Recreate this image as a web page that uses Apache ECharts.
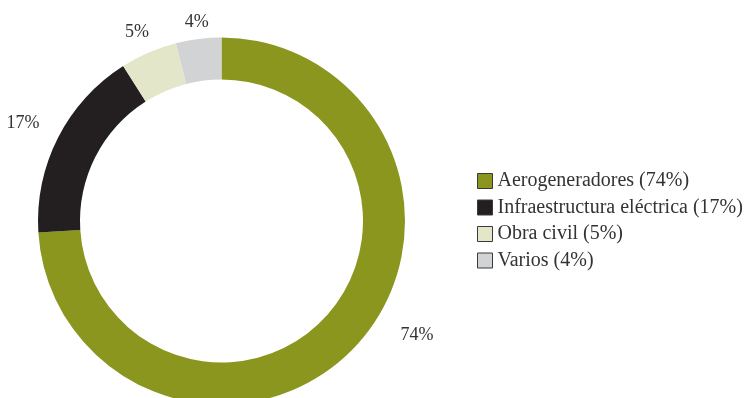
<!DOCTYPE html>
<html>
<head>
<meta charset="utf-8">
<script src="https://cdn.jsdelivr.net/npm/echarts@6/dist/echarts.min.js"></script>
<style>
  html, body { margin: 0; padding: 0; background: #fff; }
  #chart { width: 745px; height: 398px; }
</style>
</head>
<body>
<div id="chart"></div>
<script>
// Investment breakdown by item (percent)
const categories = ['Aerogeneradores', 'Infraestructura eléctrica', 'Obra civil', 'Varios'];
const values = [74, 17, 5, 4];
const colors = ['#8a961e', '#231f20', '#e3e6c9', '#d1d3d4'];
// nudges applied to each slice label after the default outside placement
const labelShift = [[30, -21], [-1, -8], [11, -7], [17, -3]];

const FONT = '"Liberation Serif", serif';
const chart = echarts.init(document.getElementById('chart'), null, { renderer: 'canvas' });

chart.setOption({
  animation: false,
  color: colors,
  legend: {
    orient: 'vertical',
    left: 477,
    top: 171,
    padding: 0,
    itemWidth: 15,
    itemHeight: 15,
    itemGap: 6.5,
    icon: 'rect',
    itemStyle: { borderColor: '#3a3a3a', borderWidth: 1 },
    textStyle: { fontFamily: FONT, fontSize: 20, lineHeight: 20, color: '#333' },
    formatter: function (name) {
      const i = categories.indexOf(name);
      return name + ' (' + values[i] + '%)';
    },
    data: categories
  },
  series: [{
    type: 'pie',
    center: [221.5, 221],
    radius: [141.5, 183.5],
    startAngle: 90,
    clockwise: true,
    avoidLabelOverlap: false,
    label: {
      show: true,
      position: 'outside',
      formatter: '{c}%',
      fontFamily: FONT,
      fontSize: 18,
      color: '#333'
    },
    labelLine: { show: false, length: 14, length2: 0 },
    labelLayout: function (p) {
      const s = labelShift[p.dataIndex];
      return { dx: s[0], dy: s[1] };
    },
    emphasis: { disabled: true },
    data: categories.map(function (n, i) { return { name: n, value: values[i] }; })
  }]
});
</script>
</body>
</html>
